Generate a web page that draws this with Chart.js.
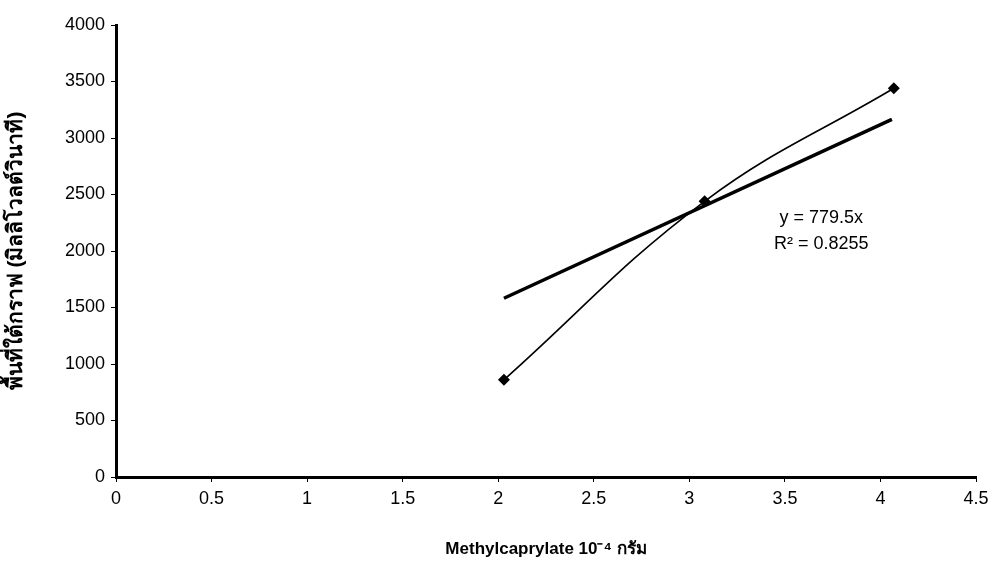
<!doctype html>
<html>
<head>
    <title>Methylcaprylate</title>
    <script src="https://cdn.jsdelivr.net/npm/chart.js@4/dist/chart.umd.min.js"></script>
    <style>
        body { margin: 0; background: #fff; }
        * { font-family: "Liberation Sans", Arial, Helvetica, sans-serif; }
    </style>
</head>
<body>
    <canvas id="myChart" width="996" height="564"></canvas>
    <script>
    // measured points (x in 10^-4 g, y = peak area)
    var xValues = [2.03, 3.08, 4.07];
    var yValues = [860, 2440, 3440];
    // linear trendline ends, y = 779.5x
    var trendX = [2.03, 4.06];
    var trendY = [1582, 3165];
    var eqLines = ['y = 779.5x', 'R\u00b2 = 0.8255'];
    var xTicks = [0, 0.5, 1, 1.5, 2, 2.5, 3, 3.5, 4, 4.5];
    var yTicks = [0, 500, 1000, 1500, 2000, 2500, 3000, 3500, 4000];

    var eqPlugin = {
        id: 'eq',
        afterDraw: function(chart) {
            var c = chart.ctx;
            var xs = chart.scales.x, ys = chart.scales.y;
            c.save();
            c.fillStyle = '#000';
            c.font = '18px "Liberation Sans", Arial, sans-serif';
            c.textAlign = 'center';
            c.textBaseline = 'middle';
            c.fillText(eqLines[0], xs.getPixelForValue(3.69), ys.getPixelForValue(2290));
            c.fillText(eqLines[1], xs.getPixelForValue(3.69), ys.getPixelForValue(2060));
            c.restore();
        }
    };

    function plain(v) { return String(v); }

    var ctx = document.getElementById('myChart').getContext('2d');
    new Chart(ctx, {
        type: 'scatter',
        data: {
            datasets: [
                {
                    label: 'area',
                    data: xValues.map(function(x, i) { return {x: x, y: yValues[i]}; }),
                    showLine: true,
                    tension: 0.4,
                    borderColor: '#000',
                    borderWidth: 1.6,
                    backgroundColor: '#000',
                    pointStyle: 'rectRot',
                    pointRadius: 6,
                    pointBorderWidth: 0
                },
                {
                    label: 'trend',
                    data: trendX.map(function(x, i) { return {x: x, y: trendY[i]}; }),
                    showLine: true,
                    borderColor: '#000',
                    borderWidth: 3.5,
                    pointRadius: 0
                }
            ]
        },
        options: {
            responsive: false,
            animation: false,
            layout: { padding: { top: 25, right: 20, left: 0, bottom: 0 } },
            plugins: { legend: { display: false }, tooltip: { enabled: false } },
            scales: {
                x: {
                    type: 'linear',
                    min: 0, max: 4.5,
                    afterBuildTicks: function(s) { s.ticks = xTicks.map(function(v) { return {value: v}; }); },
                    afterFit: function(s) { s.height = 87; },
                    border: { color: '#000', width: 3 },
                    grid: { drawOnChartArea: false, color: '#000', tickLength: 5 },
                    ticks: { color: '#000', font: { size: 18 }, padding: 6, callback: plain },
                    title: {
                        display: true,
                        text: 'Methylcaprylate 10\u207b\u2074 กรัม',
                        color: '#000',
                        font: { size: 17, weight: 'bold' },
                        padding: { top: 8 }
                    }
                },
                y: {
                    min: 0, max: 4000,
                    afterBuildTicks: function(s) { s.ticks = yTicks.map(function(v) { return {value: v}; }); },
                    afterFit: function(s) { s.width = 116; },
                    border: { color: '#000', width: 3 },
                    grid: { drawOnChartArea: false, color: '#000', tickLength: 5 },
                    ticks: { color: '#000', font: { size: 18 }, padding: 6, callback: plain },
                    title: {
                        display: true,
                        text: 'พื้นที่ใต้กราฟ (มิลลิโวลต์วินาที)',
                        color: '#000',
                        font: { size: 21, weight: 'bold' },
                        padding: { top: 4, bottom: 4 }
                    }
                }
            }
        },
        plugins: [eqPlugin]
    });
    </script>
</body>
</html>
